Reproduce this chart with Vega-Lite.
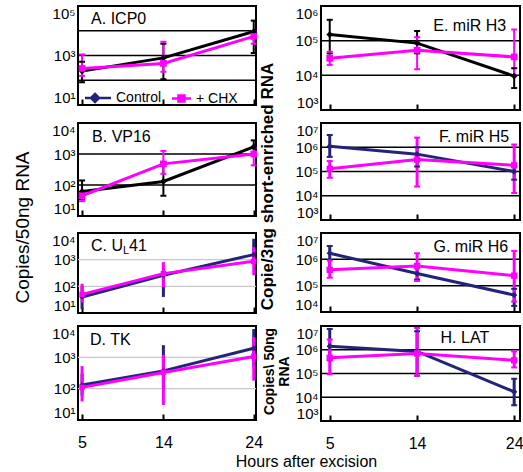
{
  "$schema": "https://vega.github.io/schema/vega-lite/v6.json",
  "padding": {"left": 11, "top": 5, "right": 2, "bottom": 2},
  "config": {
    "font": "Liberation Sans",
    "view": {"stroke": "black", "strokeWidth": 2},
    "axis": {"labelColor": "black", "titleColor": "black", "domain": false, "grid": false, "labelOverlap": false},
    "axisY": {"labelFlush": true},
    "tick": {"orient": "horizontal"}
  },
  "datasets": {
    "pts": [
      {"panel": "A", "group": "Control", "hours": 5, "value": 234, "lo": 83, "hi": 560},
      {"panel": "A", "group": "Control", "hours": 14, "value": 800, "lo": 110, "hi": 3000},
      {"panel": "A", "group": "Control", "hours": 24, "value": 9300, "lo": 1260, "hi": 25700},
      {"panel": "A", "group": "+ CHX", "hours": 5, "value": 300, "lo": 150, "hi": 1100},
      {"panel": "A", "group": "+ CHX", "hours": 14, "value": 480, "lo": 220, "hi": 3600},
      {"panel": "A", "group": "+ CHX", "hours": 24, "value": 5900, "lo": 3000, "hi": 9500},
      {"panel": "B", "group": "Control", "hours": 5, "value": 62, "lo": 35, "hi": 140},
      {"panel": "B", "group": "Control", "hours": 14, "value": 130, "lo": 45, "hi": 550},
      {"panel": "B", "group": "Control", "hours": 24, "value": 1700, "lo": 1000, "hi": 2750},
      {"panel": "B", "group": "+ CHX", "hours": 5, "value": 45, "lo": 30, "hi": 60},
      {"panel": "B", "group": "+ CHX", "hours": 14, "value": 480, "lo": 230, "hi": 1260},
      {"panel": "B", "group": "+ CHX", "hours": 24, "value": 1000, "lo": 430, "hi": 1600},
      {"panel": "C", "group": "Control", "hours": 5, "value": 40, "lo": 14, "hi": 100},
      {"panel": "C", "group": "Control", "hours": 14, "value": 260, "lo": 40, "hi": 500},
      {"panel": "C", "group": "Control", "hours": 24, "value": 1550, "lo": 700, "hi": 6100},
      {"panel": "C", "group": "+ CHX", "hours": 5, "value": 50, "lo": 25, "hi": 125},
      {"panel": "C", "group": "+ CHX", "hours": 14, "value": 300, "lo": 93, "hi": 810},
      {"panel": "C", "group": "+ CHX", "hours": 24, "value": 870, "lo": 260, "hi": 2950},
      {"panel": "D", "group": "Control", "hours": 5, "value": 130, "lo": 60, "hi": 300},
      {"panel": "D", "group": "Control", "hours": 14, "value": 370, "lo": 100, "hi": 2450},
      {"panel": "D", "group": "Control", "hours": 24, "value": 1950, "lo": 500, "hi": 8000},
      {"panel": "D", "group": "+ CHX", "hours": 5, "value": 110, "lo": 39, "hi": 525},
      {"panel": "D", "group": "+ CHX", "hours": 14, "value": 330, "lo": 30, "hi": 1200},
      {"panel": "D", "group": "+ CHX", "hours": 24, "value": 1070, "lo": 180, "hi": 4500},
      {"panel": "E", "group": "Control", "hours": 5, "value": 150000, "lo": 43000, "hi": 400000},
      {"panel": "E", "group": "Control", "hours": 14, "value": 85000, "lo": 43000, "hi": 190000},
      {"panel": "E", "group": "Control", "hours": 24, "value": 9500, "lo": 4300, "hi": 16000},
      {"panel": "E", "group": "+ CHX", "hours": 5, "value": 31000, "lo": 20000, "hi": 48000},
      {"panel": "E", "group": "+ CHX", "hours": 14, "value": 53000, "lo": 15000, "hi": 126000},
      {"panel": "E", "group": "+ CHX", "hours": 24, "value": 34000, "lo": 10000, "hi": 210000},
      {"panel": "F", "group": "Control", "hours": 5, "value": 1100000, "lo": 400000, "hi": 3200000},
      {"panel": "F", "group": "Control", "hours": 14, "value": 520000, "lo": 160000, "hi": 1000000},
      {"panel": "F", "group": "Control", "hours": 24, "value": 100000, "lo": 46000, "hi": 160000},
      {"panel": "F", "group": "+ CHX", "hours": 5, "value": 130000, "lo": 55000, "hi": 270000},
      {"panel": "F", "group": "+ CHX", "hours": 14, "value": 310000, "lo": 24000, "hi": 2500000},
      {"panel": "F", "group": "+ CHX", "hours": 24, "value": 180000, "lo": 13000, "hi": 1300000},
      {"panel": "G", "group": "Control", "hours": 5, "value": 1700000, "lo": 460000, "hi": 3200000},
      {"panel": "G", "group": "Control", "hours": 14, "value": 290000, "lo": 170000, "hi": 460000},
      {"panel": "G", "group": "Control", "hours": 24, "value": 44000, "lo": 17000, "hi": 76000},
      {"panel": "G", "group": "+ CHX", "hours": 5, "value": 400000, "lo": 200000, "hi": 900000},
      {"panel": "G", "group": "+ CHX", "hours": 14, "value": 560000, "lo": 150000, "hi": 1700000},
      {"panel": "G", "group": "+ CHX", "hours": 24, "value": 240000, "lo": 25000, "hi": 2100000},
      {"panel": "H", "group": "Control", "hours": 5, "value": 1400000, "lo": 360000, "hi": 7500000},
      {"panel": "H", "group": "Control", "hours": 14, "value": 850000, "lo": 80000, "hi": 6000000},
      {"panel": "H", "group": "Control", "hours": 24, "value": 17000, "lo": 4600, "hi": 60000},
      {"panel": "H", "group": "+ CHX", "hours": 5, "value": 460000, "lo": 93000, "hi": 2700000},
      {"panel": "H", "group": "+ CHX", "hours": 14, "value": 700000, "lo": 80000, "hi": 8300000},
      {"panel": "H", "group": "+ CHX", "hours": 24, "value": 360000, "lo": 180000, "hi": 850000}
    ],
    "grid": [
      {"panel": "A", "g": 100}, {"panel": "A", "g": 1000}, {"panel": "A", "g": 10000},
      {"panel": "B", "g": 100}, {"panel": "B", "g": 1000},
      {"panel": "C", "g": 100}, {"panel": "C", "g": 1000},
      {"panel": "D", "g": 100}, {"panel": "D", "g": 1000},
      {"panel": "E", "g": 10000}, {"panel": "E", "g": 100000},
      {"panel": "F", "g": 10000}, {"panel": "F", "g": 100000}, {"panel": "F", "g": 1000000},
      {"panel": "G", "g": 100000}, {"panel": "G", "g": 1000000},
      {"panel": "H", "g": 10000}, {"panel": "H", "g": 100000}, {"panel": "H", "g": 1000000}
    ],
    "labels": [
      {"panel": "A", "label": "A. ICP0"},
      {"panel": "B", "label": "B. VP16"},
      {"panel": "C", "label": "C. U"},
      {"panel": "C1", "label": "L"},
      {"panel": "C2", "label": "41"},
      {"panel": "D", "label": "D. TK"},
      {"panel": "E", "label": "E. miR H3"},
      {"panel": "F", "label": "F. miR H5"},
      {"panel": "G", "label": "G. miR H6"},
      {"panel": "H", "label": "H. LAT"}
    ]
  },
  "resolve": {"scale": {"color": "independent", "fill": "independent", "stroke": "independent", "shape": "independent"}},
  "bounds": "flush",
  "columns": 2,
  "spacing": {"row": 13, "column": 65},
  "concat": [
    {
      "width": 178, "height": 99,
      "layer": [
        {"data": {"name": "grid"}, "transform": [{"filter": "datum.panel === 'A'"}], "mark": {"type": "rule", "color": "black", "strokeWidth": 1.5}, "encoding": {"y": {"field": "g", "type": "quantitative"}}},
        {"data": {"name": "pts"}, "transform": [{"filter": "datum.panel === 'A'"}], "mark": {"type": "rule", "strokeWidth": 2}, "encoding": {"x": {"field": "hours", "type": "quantitative"}, "y": {"field": "lo", "type": "quantitative"}, "y2": {"field": "hi"}, "color": {"field": "group", "type": "nominal", "legend": null}}},
        {"data": {"name": "pts"}, "transform": [{"filter": "datum.panel === 'A'"}], "mark": {"type": "tick", "size": 6, "thickness": 2, "opacity": 1}, "encoding": {"x": {"field": "hours", "type": "quantitative"}, "y": {"field": "lo", "type": "quantitative"}, "color": {"field": "group", "type": "nominal", "legend": null}}},
        {"data": {"name": "pts"}, "transform": [{"filter": "datum.panel === 'A'"}], "mark": {"type": "tick", "size": 6, "thickness": 2, "opacity": 1}, "encoding": {"x": {"field": "hours", "type": "quantitative"}, "y": {"field": "hi", "type": "quantitative"}, "color": {"field": "group", "type": "nominal", "legend": null}}},
        {"data": {"name": "pts"}, "transform": [{"filter": "datum.panel === 'A'"}], "mark": {"type": "line", "strokeWidth": 3},
         "encoding": {"x": {"field": "hours", "type": "quantitative", "scale": {"domain": [4.55, 24.25], "nice": false, "zero": false}, "axis": {"values": [5, 14, 24], "labels": false, "tickSize": -6, "tickWidth": 2, "tickColor": "black", "title": null}}, "y": {"field": "value", "type": "quantitative", "scale": {"type": "log", "domain": [10, 100000], "nice": false}, "axis": {"values": [10, 1000, 100000], "labelExpr": "'10' + ['⁰','¹','²','³','⁴','⁵','⁶','⁷'][round(log(datum.value)/LN10)]", "ticks": false, "labelFontSize": 15, "labelPadding": 3, "title": null}}, "color": {"field": "group", "type": "nominal", "scale": {"domain": ["Control", "+ CHX"], "range": ["black", "#ff00ff"]}, "legend": null}}},
        {"data": {"name": "pts"}, "transform": [{"filter": "datum.panel === 'A' && datum.group === 'Control'"}], "mark": {"type": "point", "filled": true, "size": 45, "opacity": 1, "shape": "diamond"},
         "encoding": {"x": {"field": "hours", "type": "quantitative"}, "y": {"field": "value", "type": "quantitative"}, "color": {"field": "group", "type": "nominal", "legend": null}}},
        {"data": {"name": "pts"}, "transform": [{"filter": "datum.panel === 'A' && datum.group === '+ CHX'"}], "mark": {"type": "point", "filled": true, "size": 45, "opacity": 1, "shape": "square"},
         "encoding": {"x": {"field": "hours", "type": "quantitative"}, "y": {"field": "value", "type": "quantitative"}, "color": {"field": "group", "type": "nominal", "legend": null}}},
        {"data": {"values": []}, "mark": {"type": "point", "filled": true, "opacity": 1, "strokeWidth": 2.5},
         "encoding": {
           "fill": {"field": "group", "type": "nominal", "scale": {"domain": ["+ CHX", "Control"], "range": ["#ff00ff", "#23237a"]}, "legend": {"values": ["Control", "+ CHX"], "orient": "none", "legendX": 13, "legendY": 85, "direction": "horizontal", "title": null, "padding": 0, "labelFontSize": 14, "labelColor": "black", "symbolSize": 100, "symbolStrokeWidth": 2.5, "labelOffset": 11, "columnPadding": 5}},
           "stroke": {"field": "group", "type": "nominal", "scale": {"domain": ["+ CHX", "Control"], "range": ["#ff00ff", "#23237a"]}, "legend": {"values": ["Control", "+ CHX"], "orient": "none", "legendX": 13, "legendY": 85, "direction": "horizontal", "title": null, "padding": 0, "labelFontSize": 14, "labelColor": "black", "symbolSize": 100, "symbolStrokeWidth": 2.5, "labelOffset": 11, "columnPadding": 5}},
           "shape": {"field": "group", "type": "nominal", "scale": {"domain": ["+ CHX", "Control"], "range": ["M-1.2,0H2.6M0.1,-0.6H1.3V0.6H0.1Z", "M-2.6,0H2.6M-0.6,-0.8L0.2,0L-0.6,0.8L-1.4,0Z"]}, "legend": {"values": ["Control", "+ CHX"], "orient": "none", "legendX": 13, "legendY": 85, "direction": "horizontal", "title": null, "padding": 0, "labelFontSize": 14, "labelColor": "black", "symbolSize": 100, "symbolStrokeWidth": 2.5, "labelOffset": 11, "columnPadding": 5}}
         }},
        {"data": {"name": "labels"}, "transform": [{"filter": "datum.panel === 'A'"}], "mark": {"type": "text", "align": "left", "baseline": "middle", "fontSize": 16, "dx": 9, "color": "black"},
         "encoding": {"x": {"datum": 5, "type": "quantitative"}, "y": {"datum": 30000, "type": "quantitative"}, "text": {"field": "label"}}}
      ]
    },
    {
      "width": 199, "height": 104,
      "layer": [
        {"data": {"name": "grid"}, "transform": [{"filter": "datum.panel === 'E'"}], "mark": {"type": "rule", "color": "black", "strokeWidth": 1.5}, "encoding": {"y": {"field": "g", "type": "quantitative"}}},
        {"data": {"name": "pts"}, "transform": [{"filter": "datum.panel === 'E'"}], "mark": {"type": "rule", "strokeWidth": 2}, "encoding": {"x": {"field": "hours", "type": "quantitative"}, "y": {"field": "lo", "type": "quantitative"}, "y2": {"field": "hi"}, "color": {"field": "group", "type": "nominal", "legend": null}}},
        {"data": {"name": "pts"}, "transform": [{"filter": "datum.panel === 'E'"}], "mark": {"type": "tick", "size": 6, "thickness": 2, "opacity": 1}, "encoding": {"x": {"field": "hours", "type": "quantitative"}, "y": {"field": "lo", "type": "quantitative"}, "color": {"field": "group", "type": "nominal", "legend": null}}},
        {"data": {"name": "pts"}, "transform": [{"filter": "datum.panel === 'E'"}], "mark": {"type": "tick", "size": 6, "thickness": 2, "opacity": 1}, "encoding": {"x": {"field": "hours", "type": "quantitative"}, "y": {"field": "hi", "type": "quantitative"}, "color": {"field": "group", "type": "nominal", "legend": null}}},
        {"data": {"name": "pts"}, "transform": [{"filter": "datum.panel === 'E'"}], "mark": {"type": "line", "strokeWidth": 3},
         "encoding": {"x": {"field": "hours", "type": "quantitative", "scale": {"domain": [4.1, 24.6], "nice": false, "zero": false}, "axis": {"values": [5, 14, 24], "labels": false, "tickSize": -6, "tickWidth": 2, "tickColor": "black", "title": null}}, "y": {"field": "value", "type": "quantitative", "scale": {"type": "log", "domain": [1000, 1000000], "nice": false}, "axis": {"values": [1000, 10000, 100000, 1000000], "labelExpr": "'10' + ['⁰','¹','²','³','⁴','⁵','⁶','⁷'][round(log(datum.value)/LN10)]", "ticks": false, "labelFontSize": 15, "labelPadding": 3, "title": null}}, "color": {"field": "group", "type": "nominal", "scale": {"domain": ["Control", "+ CHX"], "range": ["black", "#ff00ff"]}, "legend": null}}},
        {"data": {"name": "pts"}, "transform": [{"filter": "datum.panel === 'E'"}], "mark": {"type": "point", "filled": true, "size": 45, "opacity": 1},
         "encoding": {"x": {"field": "hours", "type": "quantitative"}, "y": {"field": "value", "type": "quantitative"}, "color": {"field": "group", "type": "nominal", "legend": null}, "shape": {"field": "group", "type": "nominal", "scale": {"domain": ["Control", "+ CHX"], "range": ["diamond", "square"]}, "legend": null}}},
        {"data": {"name": "labels"}, "transform": [{"filter": "datum.panel === 'E'"}], "mark": {"type": "text", "align": "right", "baseline": "middle", "fontSize": 16, "dx": -8, "color": "black"},
         "encoding": {"x": {"datum": 24, "type": "quantitative"}, "y": {"datum": 260000, "type": "quantitative"}, "text": {"field": "label"}}}
      ]
    },
    {
      "width": 178, "height": 93,
      "layer": [
        {"data": {"name": "grid"}, "transform": [{"filter": "datum.panel === 'B'"}], "mark": {"type": "rule", "color": "black", "strokeWidth": 1.5}, "encoding": {"y": {"field": "g", "type": "quantitative"}}},
        {"data": {"name": "pts"}, "transform": [{"filter": "datum.panel === 'B'"}], "mark": {"type": "rule", "strokeWidth": 2}, "encoding": {"x": {"field": "hours", "type": "quantitative"}, "y": {"field": "lo", "type": "quantitative"}, "y2": {"field": "hi"}, "color": {"field": "group", "type": "nominal", "legend": null}}},
        {"data": {"name": "pts"}, "transform": [{"filter": "datum.panel === 'B'"}], "mark": {"type": "tick", "size": 6, "thickness": 2, "opacity": 1}, "encoding": {"x": {"field": "hours", "type": "quantitative"}, "y": {"field": "lo", "type": "quantitative"}, "color": {"field": "group", "type": "nominal", "legend": null}}},
        {"data": {"name": "pts"}, "transform": [{"filter": "datum.panel === 'B'"}], "mark": {"type": "tick", "size": 6, "thickness": 2, "opacity": 1}, "encoding": {"x": {"field": "hours", "type": "quantitative"}, "y": {"field": "hi", "type": "quantitative"}, "color": {"field": "group", "type": "nominal", "legend": null}}},
        {"data": {"name": "pts"}, "transform": [{"filter": "datum.panel === 'B'"}], "mark": {"type": "line", "strokeWidth": 3},
         "encoding": {"x": {"field": "hours", "type": "quantitative", "scale": {"domain": [4.55, 24.25], "nice": false, "zero": false}, "axis": {"values": [5, 14, 24], "labels": false, "tickSize": -6, "tickWidth": 2, "tickColor": "black", "title": null}}, "y": {"field": "value", "type": "quantitative", "scale": {"type": "log", "domain": [10, 10000], "nice": false}, "axis": {"values": [10, 100, 1000, 10000], "labelExpr": "'10' + ['⁰','¹','²','³','⁴','⁵','⁶','⁷'][round(log(datum.value)/LN10)]", "ticks": false, "labelFontSize": 15, "labelPadding": 3, "title": "Copies/50ng RNA", "titleFontSize": 19, "titleFontWeight": "normal", "titleX": -56, "titleY": 104, "titleAngle": -90, "titleAlign": "center", "titleBaseline": "middle"}}, "color": {"field": "group", "type": "nominal", "scale": {"domain": ["Control", "+ CHX"], "range": ["black", "#ff00ff"]}, "legend": null}}},
        {"data": {"name": "pts"}, "transform": [{"filter": "datum.panel === 'B'"}], "mark": {"type": "point", "filled": true, "size": 45, "opacity": 1},
         "encoding": {"x": {"field": "hours", "type": "quantitative"}, "y": {"field": "value", "type": "quantitative"}, "color": {"field": "group", "type": "nominal", "legend": null}, "shape": {"field": "group", "type": "nominal", "scale": {"domain": ["Control", "+ CHX"], "range": ["diamond", "square"]}, "legend": null}}},
        {"data": {"name": "labels"}, "transform": [{"filter": "datum.panel === 'B'"}], "mark": {"type": "text", "align": "left", "baseline": "middle", "fontSize": 16, "dx": 10, "color": "black"},
         "encoding": {"x": {"datum": 5, "type": "quantitative"}, "y": {"datum": 3500, "type": "quantitative"}, "text": {"field": "label"}}}
      ]
    },
    {
      "width": 199, "height": 97,
      "layer": [
        {"data": {"name": "grid"}, "transform": [{"filter": "datum.panel === 'F'"}], "mark": {"type": "rule", "color": "black", "strokeWidth": 1.5}, "encoding": {"y": {"field": "g", "type": "quantitative"}}},
        {"data": {"name": "pts"}, "transform": [{"filter": "datum.panel === 'F'"}], "mark": {"type": "rule", "strokeWidth": 3}, "encoding": {"x": {"field": "hours", "type": "quantitative"}, "y": {"field": "lo", "type": "quantitative"}, "y2": {"field": "hi"}, "color": {"field": "group", "type": "nominal", "legend": null}}},
        {"data": {"name": "pts"}, "transform": [{"filter": "datum.panel === 'F'"}], "mark": {"type": "tick", "size": 6, "thickness": 2, "opacity": 1}, "encoding": {"x": {"field": "hours", "type": "quantitative"}, "y": {"field": "lo", "type": "quantitative"}, "color": {"field": "group", "type": "nominal", "legend": null}}},
        {"data": {"name": "pts"}, "transform": [{"filter": "datum.panel === 'F'"}], "mark": {"type": "tick", "size": 6, "thickness": 2, "opacity": 1}, "encoding": {"x": {"field": "hours", "type": "quantitative"}, "y": {"field": "hi", "type": "quantitative"}, "color": {"field": "group", "type": "nominal", "legend": null}}},
        {"data": {"name": "pts"}, "transform": [{"filter": "datum.panel === 'F'"}], "mark": {"type": "line", "strokeWidth": 3},
         "encoding": {"x": {"field": "hours", "type": "quantitative", "scale": {"domain": [4.1, 24.6], "nice": false, "zero": false}, "axis": {"values": [5, 14, 24], "labels": false, "tickSize": -6, "tickWidth": 2, "tickColor": "black", "title": null}}, "y": {"field": "value", "type": "quantitative", "scale": {"type": "log", "domain": [1000, 10000000], "nice": false}, "axis": {"values": [1000, 10000, 100000, 1000000, 10000000], "labelExpr": "'10' + ['⁰','¹','²','³','⁴','⁵','⁶','⁷'][round(log(datum.value)/LN10)]", "ticks": false, "labelFontSize": 15, "labelPadding": 3, "title": "Copie/3ng short-enriched RNA", "titleFontSize": 17, "titleFontWeight": "bold", "titleX": -54, "titleY": 63, "titleAngle": -90, "titleAlign": "center", "titleBaseline": "middle"}}, "color": {"field": "group", "type": "nominal", "scale": {"domain": ["Control", "+ CHX"], "range": ["#23237a", "#ff00ff"]}, "legend": null}}},
        {"data": {"name": "pts"}, "transform": [{"filter": "datum.panel === 'F'"}], "mark": {"type": "point", "filled": true, "size": 40, "opacity": 1},
         "encoding": {"x": {"field": "hours", "type": "quantitative"}, "y": {"field": "value", "type": "quantitative"}, "color": {"field": "group", "type": "nominal", "legend": null}, "shape": {"field": "group", "type": "nominal", "scale": {"domain": ["Control", "+ CHX"], "range": ["diamond", "square"]}, "legend": null}}},
        {"data": {"name": "labels"}, "transform": [{"filter": "datum.panel === 'F'"}], "mark": {"type": "text", "align": "right", "baseline": "middle", "fontSize": 16, "dx": -5, "color": "black"},
         "encoding": {"x": {"datum": 24, "type": "quantitative"}, "y": {"datum": 2600000, "type": "quantitative"}, "text": {"field": "label"}}}
      ]
    },
    {
      "width": 178, "height": 80,
      "layer": [
        {"data": {"name": "grid"}, "transform": [{"filter": "datum.panel === 'C'"}], "mark": {"type": "rule", "color": "#c8c8c8", "strokeWidth": 1.2}, "encoding": {"y": {"field": "g", "type": "quantitative"}}},
        {"data": {"name": "pts"}, "transform": [{"filter": "datum.panel === 'C'"}], "mark": {"type": "rule", "strokeWidth": 3}, "encoding": {"x": {"field": "hours", "type": "quantitative"}, "y": {"field": "lo", "type": "quantitative"}, "y2": {"field": "hi"}, "color": {"field": "group", "type": "nominal", "legend": null}}},
        {"data": {"name": "pts"}, "transform": [{"filter": "datum.panel === 'C'"}], "mark": {"type": "line", "strokeWidth": 3},
         "encoding": {"x": {"field": "hours", "type": "quantitative", "scale": {"domain": [4.55, 24.25], "nice": false, "zero": false}, "axis": {"values": [5, 14, 24], "labels": false, "tickSize": -6, "tickWidth": 2, "tickColor": "black", "title": null}}, "y": {"field": "value", "type": "quantitative", "scale": {"type": "log", "domain": [10, 10000], "nice": false}, "axis": {"values": [10, 100, 1000, 10000], "labelExpr": "'10' + ['⁰','¹','²','³','⁴','⁵','⁶','⁷'][round(log(datum.value)/LN10)]", "ticks": false, "labelFontSize": 15, "labelPadding": 3, "title": null}}, "color": {"field": "group", "type": "nominal", "scale": {"domain": ["Control", "+ CHX"], "range": ["#23237a", "#ff00ff"]}, "legend": null}}},
        {"data": {"name": "pts"}, "transform": [{"filter": "datum.panel === 'C'"}], "mark": {"type": "point", "filled": true, "size": 30, "opacity": 1},
         "encoding": {"x": {"field": "hours", "type": "quantitative"}, "y": {"field": "value", "type": "quantitative"}, "color": {"field": "group", "type": "nominal", "legend": null}, "shape": {"field": "group", "type": "nominal", "scale": {"domain": ["Control", "+ CHX"], "range": ["diamond", "square"]}, "legend": null}}},
        {"data": {"name": "labels"}, "transform": [{"filter": "datum.panel === 'C'"}], "mark": {"type": "text", "align": "left", "baseline": "middle", "fontSize": 16, "dx": 9, "color": "black"},
         "encoding": {"x": {"datum": 5, "type": "quantitative"}, "y": {"datum": 3300, "type": "quantitative"}, "text": {"field": "label"}}},
        {"data": {"name": "labels"}, "transform": [{"filter": "datum.panel === 'C1'"}], "mark": {"type": "text", "align": "left", "baseline": "middle", "fontSize": 11, "dx": 41, "dy": 5, "color": "black"},
         "encoding": {"x": {"datum": 5, "type": "quantitative"}, "y": {"datum": 3300, "type": "quantitative"}, "text": {"field": "label"}}},
        {"data": {"name": "labels"}, "transform": [{"filter": "datum.panel === 'C2'"}], "mark": {"type": "text", "align": "left", "baseline": "middle", "fontSize": 16, "dx": 47, "color": "black"},
         "encoding": {"x": {"datum": 5, "type": "quantitative"}, "y": {"datum": 3300, "type": "quantitative"}, "text": {"field": "label"}}}
      ]
    },
    {
      "width": 199, "height": 79,
      "layer": [
        {"data": {"name": "grid"}, "transform": [{"filter": "datum.panel === 'G'"}], "mark": {"type": "rule", "color": "black", "strokeWidth": 1.5}, "encoding": {"y": {"field": "g", "type": "quantitative"}}},
        {"data": {"name": "pts"}, "transform": [{"filter": "datum.panel === 'G'"}], "mark": {"type": "rule", "strokeWidth": 3}, "encoding": {"x": {"field": "hours", "type": "quantitative"}, "y": {"field": "lo", "type": "quantitative"}, "y2": {"field": "hi"}, "color": {"field": "group", "type": "nominal", "legend": null}}},
        {"data": {"name": "pts"}, "transform": [{"filter": "datum.panel === 'G'"}], "mark": {"type": "tick", "size": 6, "thickness": 2, "opacity": 1}, "encoding": {"x": {"field": "hours", "type": "quantitative"}, "y": {"field": "lo", "type": "quantitative"}, "color": {"field": "group", "type": "nominal", "legend": null}}},
        {"data": {"name": "pts"}, "transform": [{"filter": "datum.panel === 'G'"}], "mark": {"type": "tick", "size": 6, "thickness": 2, "opacity": 1}, "encoding": {"x": {"field": "hours", "type": "quantitative"}, "y": {"field": "hi", "type": "quantitative"}, "color": {"field": "group", "type": "nominal", "legend": null}}},
        {"data": {"name": "pts"}, "transform": [{"filter": "datum.panel === 'G'"}], "mark": {"type": "line", "strokeWidth": 3},
         "encoding": {"x": {"field": "hours", "type": "quantitative", "scale": {"domain": [4.1, 24.6], "nice": false, "zero": false}, "axis": {"values": [5, 14, 24], "labels": false, "tickSize": -6, "tickWidth": 2, "tickColor": "black", "title": null}}, "y": {"field": "value", "type": "quantitative", "scale": {"type": "log", "domain": [10000, 10000000], "nice": false}, "axis": {"values": [10000, 100000, 1000000, 10000000], "labelExpr": "'10' + ['⁰','¹','²','³','⁴','⁵','⁶','⁷'][round(log(datum.value)/LN10)]", "ticks": false, "labelFontSize": 15, "labelPadding": 3, "title": null}}, "color": {"field": "group", "type": "nominal", "scale": {"domain": ["Control", "+ CHX"], "range": ["#23237a", "#ff00ff"]}, "legend": null}}},
        {"data": {"name": "pts"}, "transform": [{"filter": "datum.panel === 'G'"}], "mark": {"type": "point", "filled": true, "size": 40, "opacity": 1},
         "encoding": {"x": {"field": "hours", "type": "quantitative"}, "y": {"field": "value", "type": "quantitative"}, "color": {"field": "group", "type": "nominal", "legend": null}, "shape": {"field": "group", "type": "nominal", "scale": {"domain": ["Control", "+ CHX"], "range": ["diamond", "square"]}, "legend": null}}},
        {"data": {"name": "labels"}, "transform": [{"filter": "datum.panel === 'G'"}], "mark": {"type": "text", "align": "right", "baseline": "middle", "fontSize": 16, "dx": -6, "color": "black"},
         "encoding": {"x": {"datum": 24, "type": "quantitative"}, "y": {"datum": 2900000, "type": "quantitative"}, "text": {"field": "label"}}}
      ]
    },
    {
      "width": 178, "height": 94,
      "layer": [
        {"data": {"name": "grid"}, "transform": [{"filter": "datum.panel === 'D'"}], "mark": {"type": "rule", "color": "#c8c8c8", "strokeWidth": 1.2}, "encoding": {"y": {"field": "g", "type": "quantitative"}}},
        {"data": {"name": "pts"}, "transform": [{"filter": "datum.panel === 'D'"}], "mark": {"type": "rule", "strokeWidth": 3}, "encoding": {"x": {"field": "hours", "type": "quantitative"}, "y": {"field": "lo", "type": "quantitative"}, "y2": {"field": "hi"}, "color": {"field": "group", "type": "nominal", "legend": null}}},
        {"data": {"name": "pts"}, "transform": [{"filter": "datum.panel === 'D'"}], "mark": {"type": "line", "strokeWidth": 3},
         "encoding": {"x": {"field": "hours", "type": "quantitative", "scale": {"domain": [4.55, 24.25], "nice": false, "zero": false}, "axis": {"values": [5, 14, 24], "labels": true, "labelFontSize": 16, "labelPadding": 20, "labelFlush": false, "tickSize": -6, "tickWidth": 2, "tickColor": "black", "title": "Hours after excision", "titleFontSize": 16, "titleFontWeight": "normal", "titleX": 228, "titleY": 41, "titleAlign": "center", "titleBaseline": "middle"}}, "y": {"field": "value", "type": "quantitative", "scale": {"type": "log", "domain": [10, 10000], "nice": false}, "axis": {"values": [10, 100, 1000, 10000], "labelExpr": "'10' + ['⁰','¹','²','³','⁴','⁵','⁶','⁷'][round(log(datum.value)/LN10)]", "ticks": false, "labelFontSize": 15, "labelPadding": 3, "title": null}}, "color": {"field": "group", "type": "nominal", "scale": {"domain": ["Control", "+ CHX"], "range": ["#23237a", "#ff00ff"]}, "legend": null}}},
        {"data": {"name": "pts"}, "transform": [{"filter": "datum.panel === 'D'"}], "mark": {"type": "point", "filled": true, "size": 30, "opacity": 1},
         "encoding": {"x": {"field": "hours", "type": "quantitative"}, "y": {"field": "value", "type": "quantitative"}, "color": {"field": "group", "type": "nominal", "legend": null}, "shape": {"field": "group", "type": "nominal", "scale": {"domain": ["Control", "+ CHX"], "range": ["diamond", "square"]}, "legend": null}}},
        {"data": {"name": "labels"}, "transform": [{"filter": "datum.panel === 'D'"}], "mark": {"type": "text", "align": "left", "baseline": "middle", "fontSize": 16, "dx": 8, "color": "black"},
         "encoding": {"x": {"datum": 5, "type": "quantitative"}, "y": {"datum": 3500, "type": "quantitative"}, "text": {"field": "label"}}}
      ]
    },
    {
      "width": 199, "height": 95,
      "layer": [
        {"data": {"name": "grid"}, "transform": [{"filter": "datum.panel === 'H'"}], "mark": {"type": "rule", "color": "black", "strokeWidth": 1.5}, "encoding": {"y": {"field": "g", "type": "quantitative"}}},
        {"data": {"name": "pts"}, "transform": [{"filter": "datum.panel === 'H'"}], "mark": {"type": "rule", "strokeWidth": 3}, "encoding": {"x": {"field": "hours", "type": "quantitative"}, "y": {"field": "lo", "type": "quantitative"}, "y2": {"field": "hi"}, "color": {"field": "group", "type": "nominal", "legend": null}}},
        {"data": {"name": "pts"}, "transform": [{"filter": "datum.panel === 'H'"}], "mark": {"type": "tick", "size": 6, "thickness": 2, "opacity": 1}, "encoding": {"x": {"field": "hours", "type": "quantitative"}, "y": {"field": "lo", "type": "quantitative"}, "color": {"field": "group", "type": "nominal", "legend": null}}},
        {"data": {"name": "pts"}, "transform": [{"filter": "datum.panel === 'H'"}], "mark": {"type": "tick", "size": 6, "thickness": 2, "opacity": 1}, "encoding": {"x": {"field": "hours", "type": "quantitative"}, "y": {"field": "hi", "type": "quantitative"}, "color": {"field": "group", "type": "nominal", "legend": null}}},
        {"data": {"name": "pts"}, "transform": [{"filter": "datum.panel === 'H'"}], "mark": {"type": "line", "strokeWidth": 3},
         "encoding": {"x": {"field": "hours", "type": "quantitative", "scale": {"domain": [4.1, 24.6], "nice": false, "zero": false}, "axis": {"values": [5, 14, 24], "labels": true, "labelFontSize": 16, "labelPadding": 20, "labelFlush": false, "tickSize": -6, "tickWidth": 2, "tickColor": "black", "title": null}}, "y": {"field": "value", "type": "quantitative", "scale": {"type": "log", "domain": [1000, 10000000], "nice": false}, "axis": {"values": [1000, 10000, 100000, 1000000, 10000000], "labelExpr": "'10' + ['⁰','¹','²','³','⁴','⁵','⁶','⁷'][round(log(datum.value)/LN10)]", "ticks": false, "labelFontSize": 15, "labelPadding": 3, "title": ["Copies\\ 50ng", "RNA"], "titleFontSize": 14, "titleFontWeight": "bold", "titleX": -52, "titleY": 45, "titleAngle": -90, "titleAlign": "center", "titleBaseline": "middle", "titleLineHeight": 15}}, "color": {"field": "group", "type": "nominal", "scale": {"domain": ["Control", "+ CHX"], "range": ["#23237a", "#ff00ff"]}, "legend": null}}},
        {"data": {"name": "pts"}, "transform": [{"filter": "datum.panel === 'H'"}], "mark": {"type": "point", "filled": true, "size": 40, "opacity": 1},
         "encoding": {"x": {"field": "hours", "type": "quantitative"}, "y": {"field": "value", "type": "quantitative"}, "color": {"field": "group", "type": "nominal", "legend": null}, "shape": {"field": "group", "type": "nominal", "scale": {"domain": ["Control", "+ CHX"], "range": ["diamond", "square"]}, "legend": null}}},
        {"data": {"name": "labels"}, "transform": [{"filter": "datum.panel === 'H'"}], "mark": {"type": "text", "align": "right", "baseline": "middle", "fontSize": 16, "dx": -25, "color": "black"},
         "encoding": {"x": {"datum": 24, "type": "quantitative"}, "y": {"datum": 3200000, "type": "quantitative"}, "text": {"field": "label"}}}
      ]
    }
  ]
}
